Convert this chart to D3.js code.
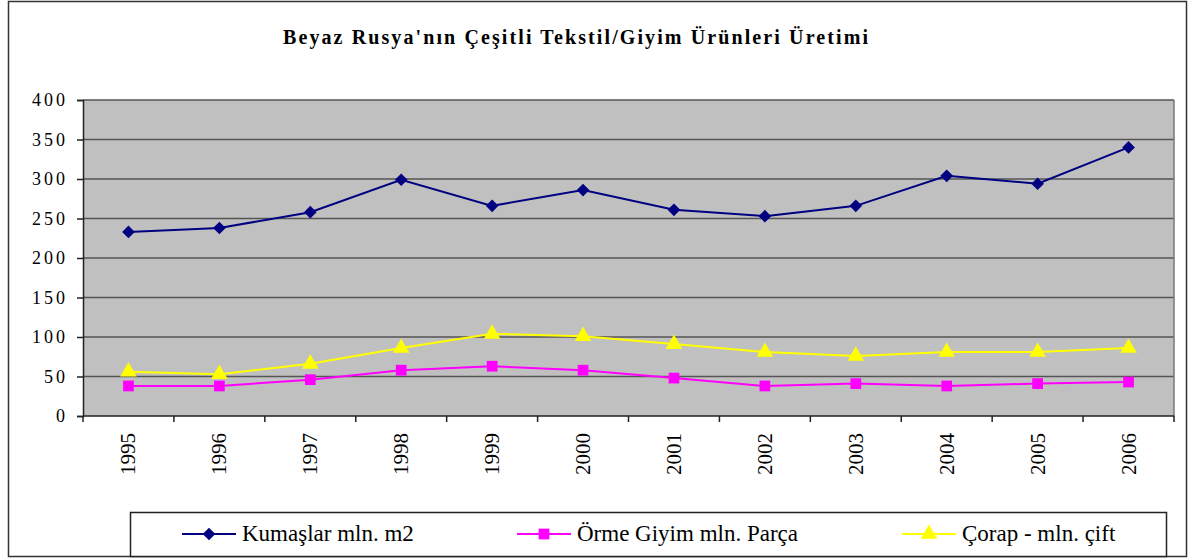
<!DOCTYPE html>
<html>
<head>
<meta charset="utf-8">
<script src="https://cdn.jsdelivr.net/npm/d3@7"></script>
</head>
<body style="margin:0">
<div class="chart"></div>
<script>
const years = ['1995', '1996', '1997', '1998', '1999', '2000', '2001', '2002', '2003', '2004', '2005', '2006'];
const kumaslar = [233, 238, 258, 299, 266, 286, 261, 253, 266, 304, 294, 340];
const orme = [38, 38, 46, 58, 63, 58, 48, 38, 41, 38, 41, 43];
const corap = [56, 53, 66, 86, 104, 101, 91, 81, 76, 81, 81, 86];
const yTicks = [0, 50, 100, 150, 200, 250, 300, 350, 400];

const seriesNames = ['Kumaşlar mln. m2', 'Örme Giyim mln. Parça', 'Çorap - mln. çift'];

const width = 1192;
const height = 560;
const serif = '"Liberation Serif", "Times New Roman", serif';

const svg = d3.select('.chart')
    .append('svg')
    .attr('width', width)
    .attr('height', height)
    .style('display', 'block')
    .style('font-family', serif);

// outer frame
svg.append('rect')
    .attr('x', 8.5).attr('y', 1.5)
    .attr('width', 1178).attr('height', 555)
    .attr('fill', 'white')
    .attr('stroke', '#333')
    .attr('stroke-width', 1.5);

// title
svg.append('text')
    .text("Beyaz Rusya'nın Çeşitli Tekstil/Giyim Ürünleri Üretimi")
    .attr('x', 283).attr('y', 44)
    .attr('textLength', 585)
    .attr('lengthAdjust', 'spacing')
    .style('font-family', serif)
    .attr('font-weight', 'bold')
    .attr('font-size', '20px');

const plotLeft = 83, plotRight = 1174, plotTop = 100, plotBottom = 416;

const x = d3.scaleBand().domain(years).range([plotLeft, plotRight]);
const y = d3.scaleLinear().domain([0, 400]).range([plotBottom, plotTop]);

// plot area
svg.append('rect')
    .attr('x', plotLeft).attr('y', plotTop)
    .attr('width', plotRight - plotLeft).attr('height', plotBottom - plotTop)
    .attr('fill', '#c0c0c0');

// gridlines
svg.selectAll('.grid')
    .data(yTicks.slice(1))
    .enter()
    .append('line')
    .attr('x1', plotLeft).attr('x2', plotRight)
    .attr('y1', d => y(d)).attr('y2', d => y(d))
    .attr('stroke', '#555')
    .attr('stroke-width', 1.5);

// right border of plot
svg.append('line')
    .attr('x1', plotRight).attr('x2', plotRight)
    .attr('y1', plotTop).attr('y2', plotBottom)
    .attr('stroke', '#777')
    .attr('stroke-width', 1.5);

// y axis
const yAxis = svg.append('g')
    .attr('transform', `translate(${plotLeft},0)`)
    .call(d3.axisLeft(y).tickValues(yTicks).tickSize(6));
yAxis.attr('font-family', null);
yAxis.select('.domain').attr('stroke', '#222').attr('stroke-width', 1.5);
yAxis.selectAll('.tick line').attr('stroke', '#222').attr('stroke-width', 1.5);
yAxis.selectAll('text')
    .style('font-family', serif)
    .attr('font-size', '18px')
    .attr('letter-spacing', '3px')
    .attr('x', -15)
    .attr('fill', '#000');

// x axis line and boundary ticks
svg.append('line')
    .attr('x1', plotLeft).attr('x2', plotRight)
    .attr('y1', plotBottom).attr('y2', plotBottom)
    .attr('stroke', '#222').attr('stroke-width', 1.5);

const boundaries = years.map(d => x(d)).concat([plotRight]);
svg.selectAll('.xtick')
    .data(boundaries)
    .enter()
    .append('line')
    .attr('x1', d => d).attr('x2', d => d)
    .attr('y1', plotBottom).attr('y2', plotBottom + 6)
    .attr('stroke', '#222').attr('stroke-width', 1.5);

svg.selectAll('.xlabel')
    .data(years)
    .enter()
    .append('text')
    .text(d => d)
    .attr('transform', d => `translate(${x(d) + x.bandwidth() / 2 + 7},${plotBottom + 17}) rotate(-90)`)
    .attr('text-anchor', 'end')
    .style('font-family', serif)
    .attr('font-size', '21px');

// series
const series = [
    { name: seriesNames[0], values: kumaslar, color: '#000080', symbol: d3.symbolSquare, size: 80, rot: 45 },
    { name: seriesNames[1], values: orme, color: '#ff00ff', symbol: d3.symbolSquare, size: 115, rot: 0 },
    { name: seriesNames[2], values: corap, color: '#ffff00', symbol: d3.symbolTriangle, size: 120, rot: 0 }
];

const line = d3.line()
    .x((d, i) => x(years[i]) + x.bandwidth() / 2)
    .y(d => y(d));

series.forEach(s => {
    svg.append('path')
        .datum(s.values)
        .attr('d', line)
        .attr('fill', 'none')
        .attr('stroke', s.color)
        .attr('stroke-width', 2);

    svg.selectAll(null)
        .data(s.values)
        .enter()
        .append('path')
        .attr('d', d3.symbol().type(s.symbol).size(s.size))
        .attr('transform', (d, i) => `translate(${x(years[i]) + x.bandwidth() / 2},${y(d)}) rotate(${s.rot})`)
        .attr('fill', s.color);
});

// legend
svg.append('rect')
    .attr('x', 130.5).attr('y', 512.5)
    .attr('width', 1036).attr('height', 44)
    .attr('fill', 'white')
    .attr('stroke', '#222')
    .attr('stroke-width', 1.5);

const legendX = [182, 517, 902];
series.forEach((s, i) => {
    const lx = legendX[i];
    const g = svg.append('g');
    g.append('line')
        .attr('x1', lx).attr('x2', lx + 54)
        .attr('y1', 534).attr('y2', 534)
        .attr('stroke', s.color)
        .attr('stroke-width', 2);
    g.append('path')
        .attr('d', d3.symbol().type(s.symbol).size(s.size))
        .attr('transform', `translate(${lx + 27},534) rotate(${s.rot})`)
        .attr('fill', s.color);
    g.append('text')
        .text(s.name)
        .attr('x', lx + 60).attr('y', 541)
        .style('font-family', serif)
        .attr('font-size', '23px');
});
</script>
</body>
</html>
